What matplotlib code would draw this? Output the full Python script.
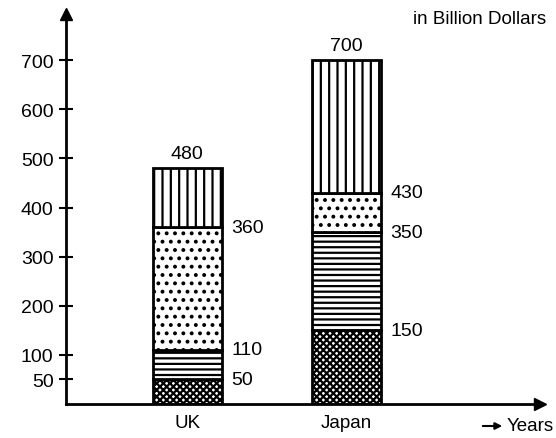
import numpy as np
import matplotlib
matplotlib.use('Agg')
import matplotlib.pyplot as plt

countries = ['UK', 'Japan']
# cumulative levels (billion dollars)
level1 = [50, 150]
level2 = [110, 350]
level3 = [360, 430]
level4 = [480, 700]
yticks = [50, 100, 200, 300, 400, 500, 600, 700]

plt.rcParams['hatch.linewidth'] = 1.6
plt.rcParams['font.family'] = 'Liberation Sans'

fig = plt.figure(figsize=(5.56, 4.39), dpi=100)
ax = fig.add_axes([66/556, 34/439, 474/556, 390/439])

x = np.array([2.56, 5.91])
w = 1.46
levels = [np.zeros(2), np.array(level1), np.array(level2), np.array(level3), np.array(level4)]
hatches = ['xxxxx', '---', '..', '||']
for i in range(4):
    ax.bar(x, levels[i+1] - levels[i], w, bottom=levels[i], color='white',
           edgecolor='black', hatch=hatches[i], linewidth=2)

# value labels
for xi, vals in zip(x, zip(level1, level2, level3)):
    for v in vals:
        ax.text(xi + w/2 + 0.2, v, str(v), fontsize=14, va='center', ha='left')
for xi, v in zip(x, level4):
    ax.text(xi, v + 12, str(v), fontsize=14, va='bottom', ha='center')

ax.set_xlim(0, 10)
ax.set_ylim(0, 794)
ax.set_yticks(yticks)
ax.set_xticks(x)
ax.set_xticklabels(countries, fontsize=13.5)
ax.tick_params(axis='x', length=0, pad=7)
ax.tick_params(axis='y', direction='inout', length=10, width=1.5, labelsize=14, pad=4)
ax.spines['top'].set_visible(False)
ax.spines['right'].set_visible(False)
ax.spines['left'].set_linewidth(2)
ax.spines['bottom'].set_linewidth(2)
ax.plot(0, 1, '^k', ms=8, transform=ax.transAxes, clip_on=False)
ax.plot(1, 0, '>k', ms=8, transform=ax.transAxes, clip_on=False)

fig.text(546/556, 1 - 20/439, 'in Billion Dollars', fontsize=13.5, ha='right', va='center')
ax.annotate('', xy=(505/556, 1 - 427/439), xytext=(480/556, 1 - 427/439),
            xycoords='figure fraction',
            arrowprops=dict(arrowstyle='-|>', color='black', lw=1.5))
fig.text(507/556, 1 - 427/439, 'Years', fontsize=13.5, ha='left', va='center')

fig.savefig('out.png', dpi=100)
